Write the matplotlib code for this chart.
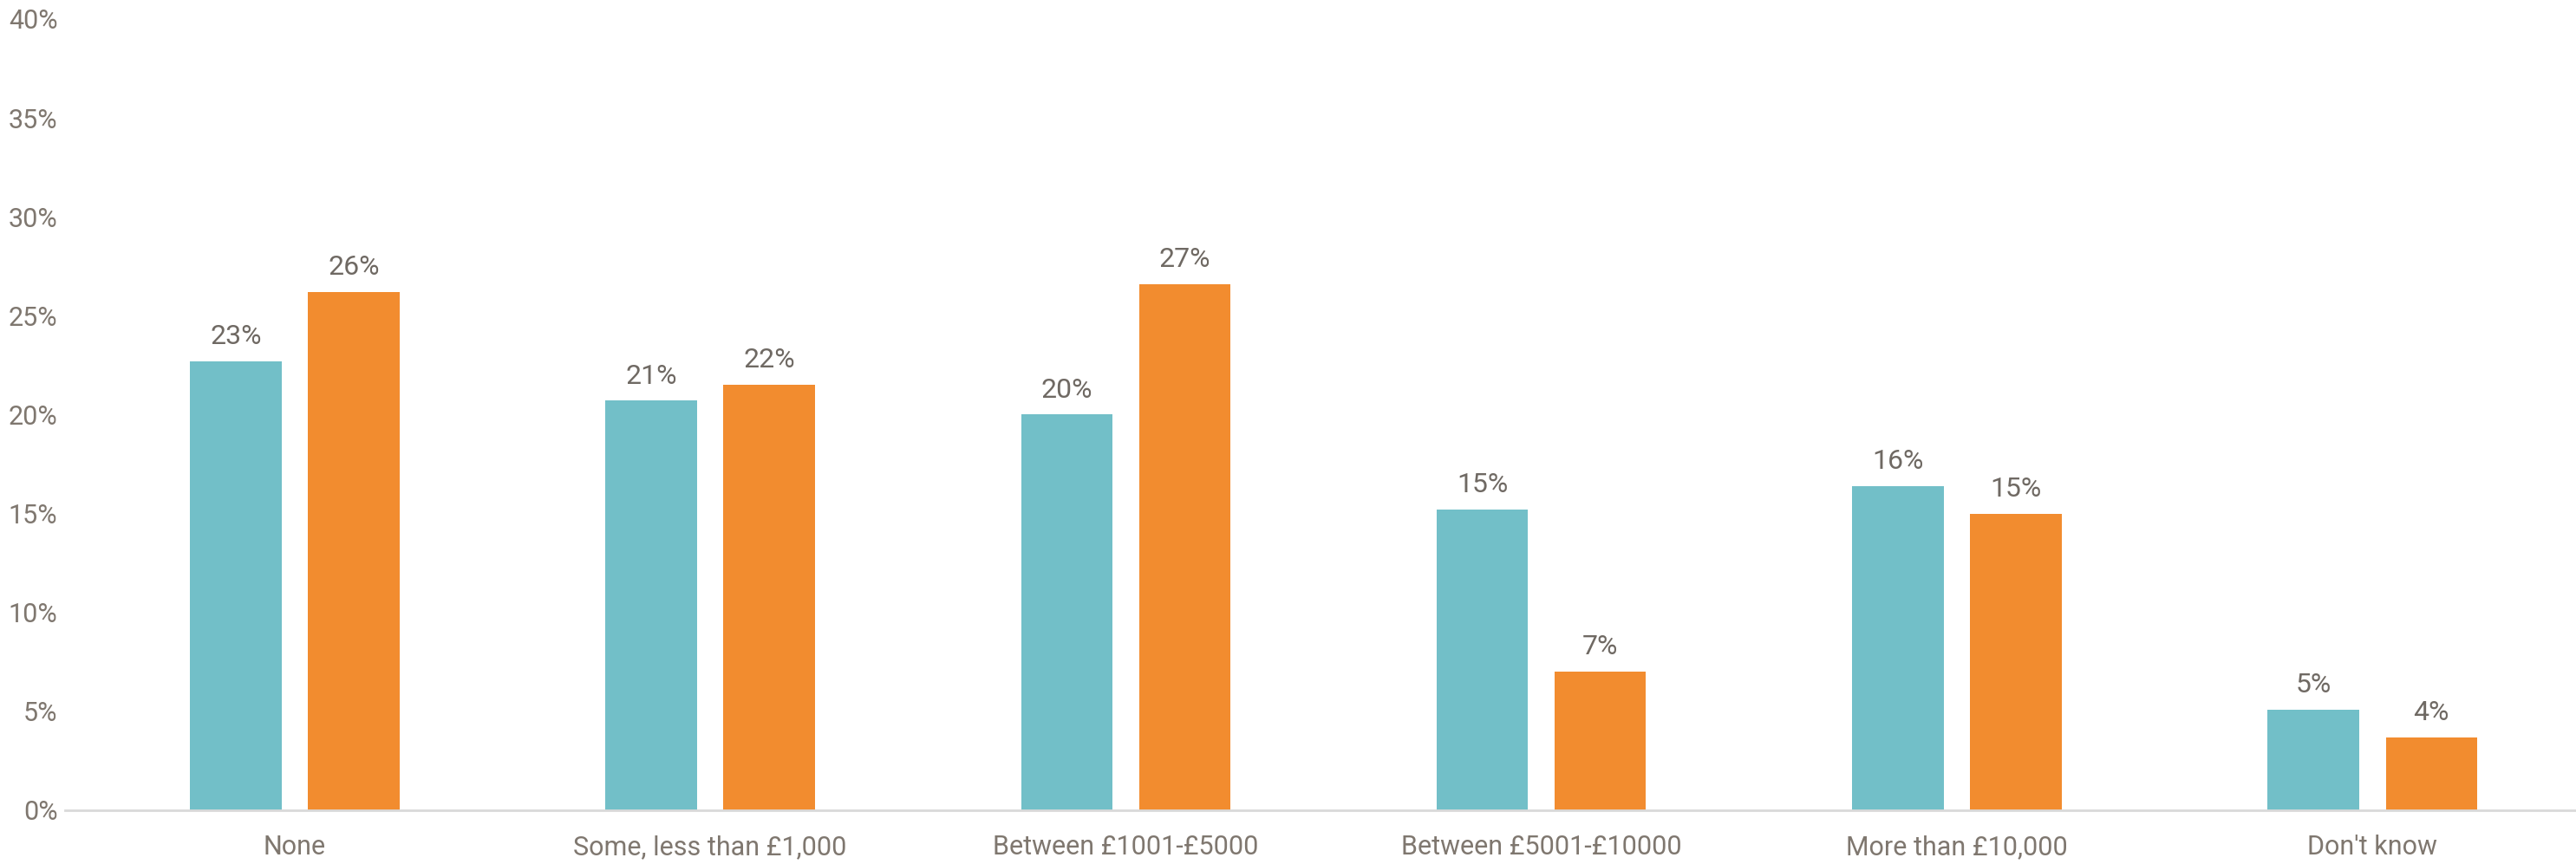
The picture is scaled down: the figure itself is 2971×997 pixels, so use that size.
import matplotlib
matplotlib.use("Agg")
import matplotlib.pyplot as plt
import numpy as np

# ---------------------------
# Data
# ---------------------------
categories = ["None", "Some, less than £1,000", "Between £1001-£5000",
              "Between £5001-£10000", "More than £10,000", "Don't know"]
series_a = [22.7, 20.7, 20.0, 15.2, 16.4, 5.1]
series_b = [26.2, 21.5, 26.6, 7.0, 15.0, 3.7]
y_ticks = [0, 5, 10, 15, 20, 25, 30, 35, 40]

teal = "#72BFC8"
orange = "#F28C2F"
text_col = "#7F776F"

plt.rcParams["font.family"] = ["Roboto", "DejaVu Sans"]

fig = plt.figure(figsize=(29.71, 9.97), dpi=100)
ax = fig.add_axes([0.0252, 0.0622, 0.9748, 0.9158])

x = np.arange(len(categories))
w = 0.22
off = 0.142
bars_a = ax.bar(x - off, series_a, w, color=teal)
bars_b = ax.bar(x + off, series_b, w, color=orange)

# value labels
for bars, vals in ((bars_a, series_a), (bars_b, series_b)):
    for b, v in zip(bars, vals):
        ax.annotate(f"{round(v)}%", (b.get_x() + b.get_width() / 2, v),
                    xytext=(0, 10), textcoords="offset points",
                    ha="center", va="bottom", fontsize=23, color="#6F6963")

ax.set_xlim(-0.553, 5.49)
ax.set_ylim(0, 40)
ax.set_yticks(y_ticks)
ax.set_yticklabels([f"{t}%" for t in y_ticks])
ax.set_xticks(x)
ax.set_xticklabels(categories)
ax.tick_params(axis="y", length=0, pad=6, labelsize=22, labelcolor=text_col)
ax.tick_params(axis="x", length=0, pad=20, labelsize=22, labelcolor=text_col)

for s in ("top", "right", "left"):
    ax.spines[s].set_visible(False)
ax.spines["bottom"].set_color("#D9D9D9")
ax.spines["bottom"].set_linewidth(2)

fig.savefig("out.png", dpi=100)
